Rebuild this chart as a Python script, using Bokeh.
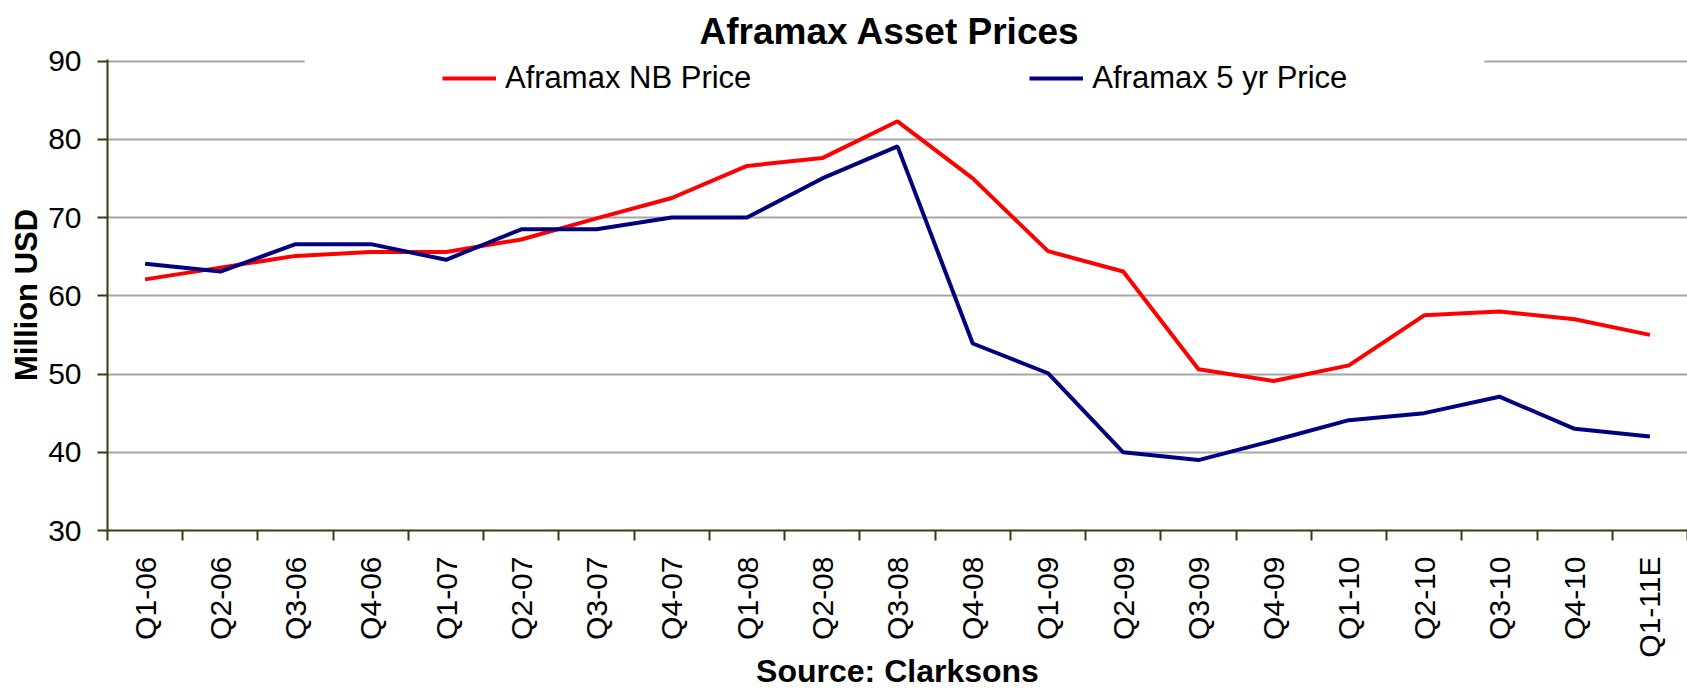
import math
from bokeh.plotting import figure
from bokeh.models import (FixedTicker, Range1d, Legend, LegendItem, BoxAnnotation)
from bokeh.embed import file_html
from bokeh.resources import INLINE

quarters = ["Q1-06", "Q2-06", "Q3-06", "Q4-06", "Q1-07", "Q2-07", "Q3-07",
            "Q4-07", "Q1-08", "Q2-08", "Q3-08", "Q4-08", "Q1-09", "Q2-09",
            "Q3-09", "Q4-09", "Q1-10", "Q2-10", "Q3-10", "Q4-10", "Q1-11E"]
nb_price = [62.1, 63.6, 65.1, 65.6, 65.6, 67.2, 69.9, 72.5, 76.6, 77.6, 82.3,
            75.0, 65.7, 63.1, 50.6, 49.1, 51.1, 57.5, 58.0, 57.0, 55.0]
five_yr_price = [64.1, 63.1, 66.6, 66.6, 64.6, 68.5, 68.5, 70.0, 70.0, 75.0, 79.1,
                 53.9, 50.1, 40.0, 39.0, 41.5, 44.1, 45.0, 47.1, 43.0, 42.0]
y_ticks = [30, 40, 50, 60, 70, 80, 90]

FONT = "Liberation Sans"
AXIS_COL = "#3a3a10"

n = len(quarters)
xs = list(range(n))

p = figure(width=1687, height=691, output_backend="svg", toolbar_location=None,
           x_range=Range1d(-0.5, n - 0.5), y_range=Range1d(y_ticks[0], y_ticks[-1] + 0.2),
           min_border_left=107, min_border_right=0, min_border_top=59,
           min_border_bottom=160)
p.outline_line_color = None
p.background_fill_color = "white"
p.border_fill_color = "white"

# Title
p.title.text = "Aframax Asset Prices"
p.title.align = "left"
p.title.offset = 592
p.title.standoff = 16
p.title.text_line_height = 1.0
p.title.text_font = FONT
p.title.text_font_size = "37px"
p.title.text_font_style = "bold"
p.title.text_color = "black"

# X axis: labels at category centers, ticks at boundaries
xt = FixedTicker(ticks=xs, minor_ticks=[i - 0.5 for i in range(n + 1)])
p.xaxis.ticker = xt
p.xaxis.major_label_overrides = {i: q for i, q in enumerate(quarters)}
p.xaxis.major_label_orientation = math.pi / 2
p.xaxis.major_tick_out = 0
p.xaxis.major_tick_in = 0
p.xaxis.minor_tick_out = 10
p.xaxis.minor_tick_in = 0
p.xaxis.major_label_standoff = 16
p.xaxis.major_label_text_font = FONT
p.xaxis.major_label_text_font_size = "30px"
p.xaxis.major_label_text_color = "black"
p.xaxis.axis_label = "Source: Clarksons"
p.xaxis.axis_label_text_font = FONT
p.xaxis.axis_label_text_font_size = "32px"
p.xaxis.axis_label_text_font_style = "bold"
p.xaxis.axis_label_text_color = "black"
p.xaxis.axis_label_standoff = -8

# Y axis
yt = FixedTicker(ticks=y_ticks, minor_ticks=[])
p.yaxis.ticker = yt
p.yaxis.major_tick_out = 10
p.yaxis.major_tick_in = 0
p.yaxis.minor_tick_out = 0
p.yaxis.minor_tick_in = 0
p.yaxis.major_label_standoff = 16
p.yaxis.major_label_text_font = FONT
p.yaxis.major_label_text_font_size = "30px"
p.yaxis.major_label_text_color = "black"
p.yaxis.axis_label = "Million USD"
p.yaxis.axis_label_text_font = FONT
p.yaxis.axis_label_text_font_size = "31px"
p.yaxis.axis_label_text_font_style = "bold"
p.yaxis.axis_label_text_color = "black"
p.yaxis.axis_label_standoff = 1

for ax in (p.xaxis, p.yaxis):
    ax.axis_line_color = AXIS_COL
    ax.axis_line_width = 2
    ax.major_tick_line_color = AXIS_COL
    ax.major_tick_line_width = 2
    ax.minor_tick_line_color = AXIS_COL
    ax.minor_tick_line_width = 2

p.xgrid.visible = False
p.ygrid.ticker = yt
p.ygrid.grid_line_color = "#a6a6a6"
p.ygrid.grid_line_width = 2

r1 = p.line(xs, nb_price, line_color="#FF0000", line_width=4)
r2 = p.line(xs, five_yr_price, line_color="#000080", line_width=4)

# white band behind the legend hiding the top gridline
mask = BoxAnnotation(left=2.12, right=17.8, bottom=89.0, top=91.0,
                     fill_color="white", fill_alpha=1.0, line_color=None)
p.add_layout(mask)

legend = Legend(items=[LegendItem(label="Aframax NB Price", renderers=[r1]),
                       LegendItem(label="Aframax 5 yr Price", renderers=[r2])],
                orientation="horizontal", location=(335, 434),
                glyph_width=54, glyph_height=20, label_standoff=9, spacing=278,
                padding=2, margin=0, border_line_color=None,
                background_fill_alpha=0.0,
                label_text_font=FONT, label_text_font_size="31px",
                label_text_color="black")
p.add_layout(legend)

open("out.html", "w").write(file_html(p, INLINE))
